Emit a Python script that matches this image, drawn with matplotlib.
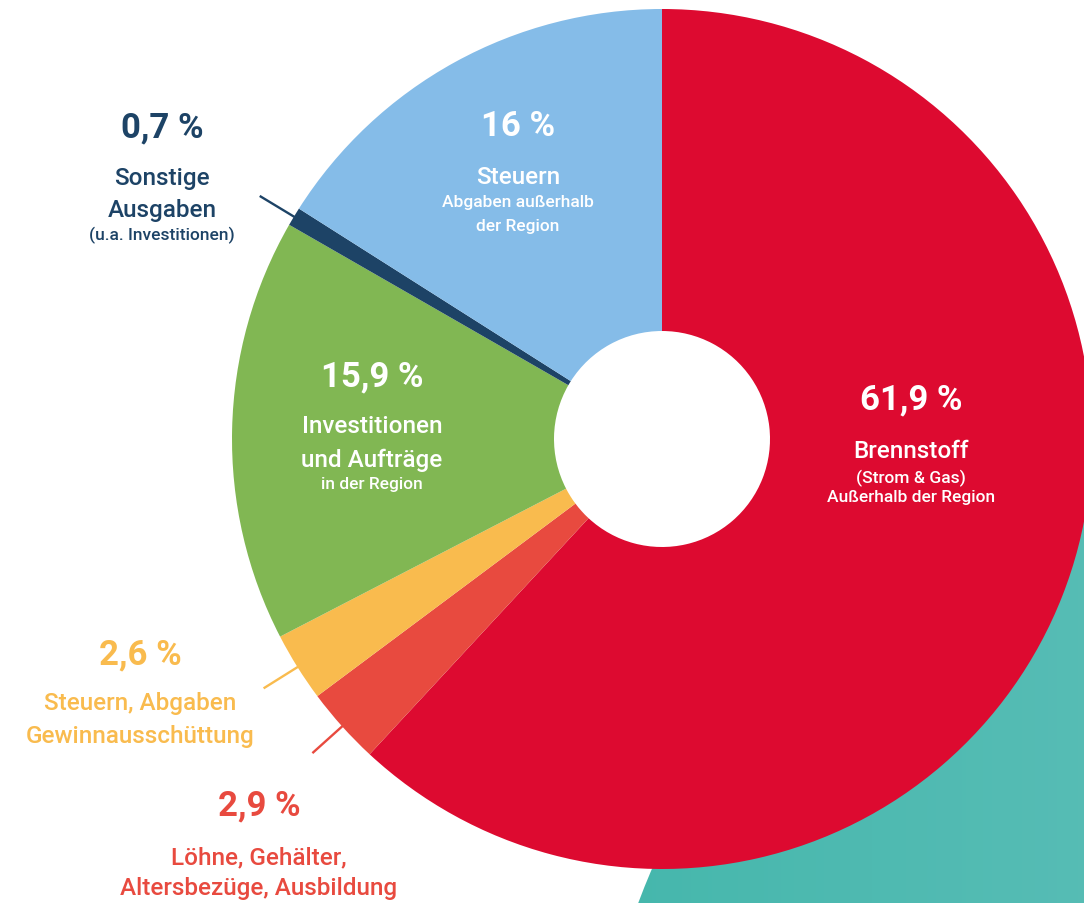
import matplotlib
matplotlib.use("Agg")
import matplotlib.pyplot as plt
from matplotlib.patches import Circle
from matplotlib.colors import LinearSegmentedColormap
import numpy as np

# data, clockwise from 12 o'clock
shares = [61.9, 2.9, 2.6, 15.9, 0.7, 16.0]
pct_labels = ["61,9 %", "2,9 %", "2,6 %", "15,9 %", "0,7 %", "16 %"]
titles = [["Brennstoff"], ["Löhne, Gehälter,", "Altersbezüge, Ausbildung"],
          ["Steuern, Abgaben", "Gewinnausschüttung"], ["Investitionen", "und Aufträge"],
          ["Sonstige", "Ausgaben"], ["Steuern"]]
subtitles = [["(Strom & Gas)", "Außerhalb der Region"], [], [], ["in der Region"],
             ["(u.a. Investitionen)"], ["Abgaben außerhalb", "der Region"]]
colors = ["#dd0a30", "#e84a3f", "#f9bb4e", "#81b753", "#1d4366", "#85bce8"]
text_colors = ["white", "#e84a3f", "#f9bb4e", "white", "#1d4366", "white"]

W, H = 1084, 904
CX, CY, R, R_IN = 662, 440, 430, 108

plt.rcParams['font.family'] = ['Roboto', 'DejaVu Sans']

fig = plt.figure(figsize=(W / 100, H / 100), dpi=100)
ax = fig.add_axes([0, 0, 1, 1])

# teal background disc with a soft gradient
teal = Circle((1300, H - 1150), 706, transform=ax.transData)
grad = np.linspace(0, 1, 256).reshape(1, -1)
cmap = LinearSegmentedColormap.from_list("teal", ["#45b7ac", "#6cc3c0"])
img = ax.imshow(grad, extent=[594, 1700, H - 1856, H - 444], cmap=cmap,
                aspect="auto", zorder=0, interpolation="bilinear")
img.set_clip_path(teal)

wedges, _ = ax.pie(shares, colors=colors, startangle=90, counterclock=False,
                   radius=R, center=(CX, H - CY),
                   wedgeprops=dict(width=R - R_IN, linewidth=0, antialiased=True))
for w in wedges:
    w.set_zorder(2)

# leader lines for the small outside slices
cum = np.cumsum([0] + shares[:-1])
for i in [1, 2, 4]:
    mid = np.deg2rad(90 - (cum[i] + shares[i] / 2) * 3.6)
    r0, r1 = R - 2, R + 40
    ax.plot([CX + r0 * np.cos(mid), CX + r1 * np.cos(mid)],
            [H - CY + r0 * np.sin(mid), H - CY + r1 * np.sin(mid)],
            color=colors[i], lw=1.7, zorder=3, solid_capstyle="butt")

# label blocks: x, y of percent, y of each title line, y of each subtitle line
label_pos = [
    (911, 400, [452], [478, 498]),
    (259, 806, [858, 889], []),
    (140, 655, [704, 737], []),
    (372, 377, [427, 460], [485]),
    (162, 128, [178, 211], [235]),
    (518, 127, [178], [203, 226]),
]
for i, (x, yp, yts, yss) in enumerate(label_pos):
    c = text_colors[i]
    ax.text(x, H - yp, pct_labels[i], color=c, fontsize=25, fontweight="bold",
            ha="center", va="center", zorder=4)
    for line, yt in zip(titles[i], yts):
        ax.text(x, H - yt, line, color=c, fontsize=17.5, fontweight="medium",
                ha="center", va="center", zorder=4)
    for line, ys in zip(subtitles[i], yss):
        ax.text(x, H - ys, line, color=c, fontsize=12.5, fontweight="medium",
                ha="center", va="center", zorder=4)

ax.set_xlim(0, W)
ax.set_ylim(0, H)
ax.set_aspect("equal")
ax.axis("off")

fig.savefig("out.png", dpi=100)
